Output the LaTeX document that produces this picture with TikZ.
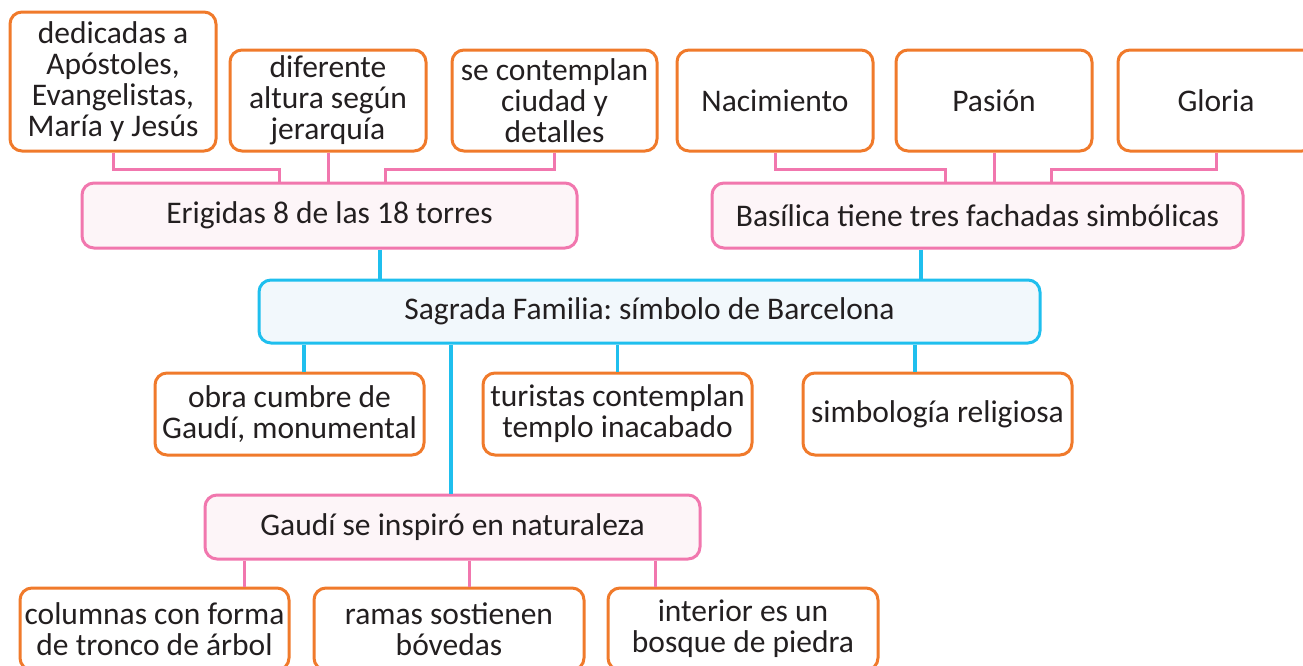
\documentclass[tikz,border=0pt]{standalone}
\usepackage{fontspec}
\setmainfont{Carlito}
\frenchspacing
\definecolor{orangeline}{HTML}{F07A2B}
\definecolor{pinkline}{HTML}{F177AE}
\definecolor{pinkfill}{HTML}{FDF5F8}
\definecolor{cyanline}{HTML}{1FBFEE}
\definecolor{cyanfill}{HTML}{F2F8FC}
\definecolor{inktext}{HTML}{231F20}

\begin{document}
\begin{tikzpicture}[x=1pt,y=-1pt,font=\fontsize{31.5}{31}\selectfont,
  leaf/.style={draw=orangeline,line width=3pt,rounded corners=12pt,fill=white,
    text=inktext,align=center,inner sep=0pt},
  branch/.style={draw=pinkline,line width=3pt,rounded corners=12pt,fill=pinkfill,
    text=inktext,align=center,inner sep=0pt},
  root/.style={draw=cyanline,line width=3pt,rounded corners=12pt,fill=cyanfill,
    text=inktext,align=center,inner sep=0pt},
  pinkwire/.style={draw=pinkline,line width=3pt},
  cyanwire/.style={draw=cyanline,line width=3.5pt}]

\useasboundingbox (0,0) rectangle (1303,665);

% central topic
\node[root,minimum width=781pt,minimum height=63pt] (sag) at (649.5,311.5) {Sagrada Familia: símbolo de Barcelona};

% upper branches
\node[branch,minimum width=495pt,minimum height=65pt] (eri) at (329.5,215.5) {Erigidas 8 de las 18 torres};
\node[branch,minimum width=531pt,minimum height=65pt] (bas) at (977.5,215.5) {Basílica tiene tres fachadas simbólicas};

\node[leaf,minimum width=206pt,minimum height=139pt] (ded) at (113,81.5) {dedicadas a\\Apóstoles,\\Evangelistas,\\María y Jesús};
\node[leaf,minimum width=196pt,minimum height=101pt] (dif) at (328,100.5) {diferente\\altura según\\jerarquía};
\node[leaf,minimum width=205pt,minimum height=101pt] (con) at (554.5,100.5) {se contemplan\\ciudad y\\detalles};

\node[leaf,minimum width=196pt,minimum height=101pt] (nac) at (775,100.5) {Nacimiento};
\node[leaf,minimum width=196pt,minimum height=101pt] (pas) at (994,100.5) {Pasión};
\node[leaf,minimum width=196pt,minimum height=101pt] (glo) at (1216,100.5) {Gloria};

% lower branches
\node[leaf,minimum width=269pt,minimum height=82pt] (obr) at (289.5,414) {obra cumbre de\\Gaudí, monumental};
\node[leaf,minimum width=269pt,minimum height=82pt] (tur) at (617.5,414) {turistas contemplan\\templo inacabado};
\node[leaf,minimum width=269pt,minimum height=82pt] (sim) at (937.5,414) {simbología religiosa};

\node[branch,minimum width=495pt,minimum height=64pt] (gau) at (452.5,527) {Gaudí se inspiró en naturaleza};

\node[leaf,minimum width=269pt,minimum height=82pt] (col) at (154.5,629) {columnas con forma\\de tronco de árbol};
\node[leaf,minimum width=270pt,minimum height=82pt] (ram) at (449,629) {ramas sostienen\\bóvedas};
\node[leaf,minimum width=270pt,minimum height=82pt] (int) at (743,629) {interior es un\\bosque de piedra};

% connectors
\draw[pinkwire] (ded.south) -- ++(0,17) -| ([xshift=-50.5pt]eri.north);
\draw[pinkwire] (dif.south) -- (dif.south |- eri.north);
\draw[pinkwire] (con.south) -- ++(0,17) -| ([xshift=55.5pt]eri.north);

\draw[pinkwire] (nac.south) -- ++(0,17) -| ([xshift=-32.5pt]bas.north);
\draw[pinkwire] (pas.south) -- (pas.south |- bas.north);
\draw[pinkwire] (glo.south) -- ++(0,17) -| ([xshift=73.5pt]bas.north);

\draw[cyanwire] ([xshift=50.5pt]eri.south) -- ([xshift=50.5pt]eri.south |- sag.north);
\draw[cyanwire] ([xshift=-56.5pt]bas.south) -- ([xshift=-56.5pt]bas.south |- sag.north);

\draw[cyanwire] (sag.south -| 304,0) -- (obr.north -| 304,0);
\draw[cyanwire] (sag.south -| tur.north) -- (tur.north);
\draw[cyanwire] (sag.south -| 915,0) -- (sim.north -| 915,0);
\draw[cyanwire] (sag.south -| 451,0) -- (gau.north -| 451,0);

\draw[pinkwire] (gau.south -| 244,0) -- (col.north -| 244,0);
\draw[pinkwire] (gau.south -| 469,0) -- (ram.north -| 469,0);
\draw[pinkwire] (gau.south -| 655,0) -- (int.north -| 655,0);

\end{tikzpicture}
\end{document}
